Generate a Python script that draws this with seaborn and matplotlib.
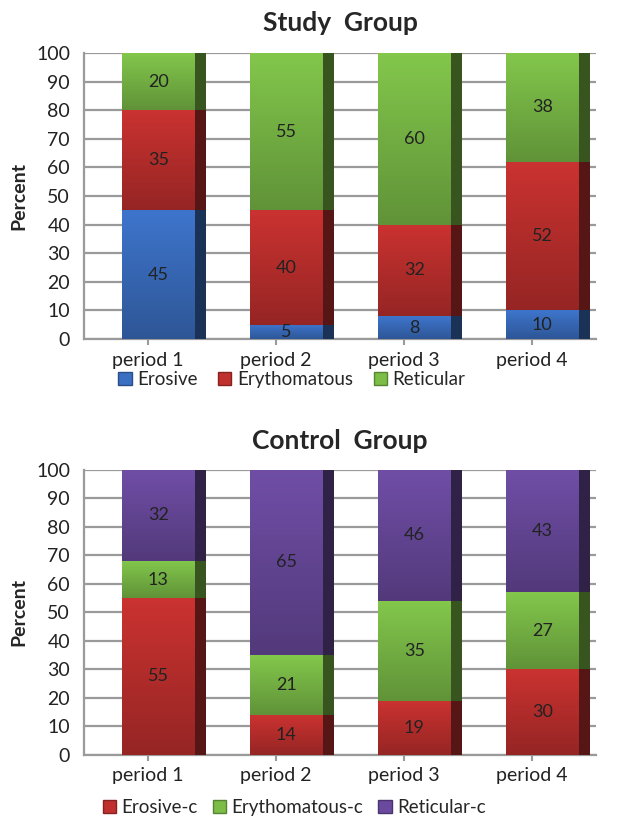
import numpy as np
import pandas as pd
import seaborn as sns
import matplotlib.pyplot as plt
from matplotlib.colors import to_rgb
from matplotlib.patches import Patch

periods = ['period 1', 'period 2', 'period 3', 'period 4']

# Study group
study_names = ['Erosive', 'Erythomatous', 'Reticular']
study_erosive = [45, 5, 8, 10]
study_erythomatous = [35, 40, 32, 52]
study_reticular = [20, 55, 60, 38]

# Control group
control_names = ['Erosive-c', 'Erythomatous-c', 'Reticular-c']
control_erosive = [55, 14, 19, 30]
control_erythomatous = [13, 21, 35, 27]
control_reticular = [32, 65, 46, 43]

study_colors = ['#3b6fc2', '#c0302e', '#7cbd48']
control_colors = ['#c0302e', '#7cbd48', '#6a4a9e']

sns.set_theme(style='white')
plt.rcParams['font.family'] = ['Lato', 'DejaVu Sans']


def darker(c, f=0.45):
    return tuple(np.array(to_rgb(c)) * f)


def stacked(ax, series, names, colors, title, pad):
    df = pd.DataFrame({'period': periods})
    cum = np.zeros(len(periods))
    tops = []
    for s in series:
        cum = cum + np.array(s)
        tops.append(cum.copy())
    # draw from the top layer down so lower layers overlap
    shift = 0.08
    for i in reversed(range(len(series))):
        df['top'] = tops[i]
        n0 = len(ax.patches)
        sns.barplot(data=df, x='period', y='top', color=colors[i], width=0.57,
                    saturation=1, ax=ax, zorder=3)
        for p in ax.patches[n0:]:
            p.set_x(p.get_x() + shift)
            p.set_edgecolor('none')

    xs = np.arange(len(periods))
    bottom = np.zeros(len(periods))
    for i, s in enumerate(series):
        # side faces
        ax.bar(xs + shift + 0.285 + 0.043, s, bottom=bottom, width=0.086,
               color=darker(colors[i]), zorder=3, linewidth=0)
        # soft vertical shading on the front faces
        c = np.array(to_rgb(colors[i]))
        grad = np.linspace(0.78, 1.05, 32)[:, None, None] * c[None, None, :]
        grad = np.clip(grad, 0, 1)
        for x, b, v in zip(xs, bottom, s):
            ax.imshow(grad, extent=(x + shift - 0.285, x + shift + 0.285, b, b + v),
                      origin='lower', aspect='auto', zorder=3.5, interpolation='bilinear')
            ax.text(x + shift, b + v / 2, str(v), ha='center', va='center',
                    fontsize=13, color='#222222', zorder=5)
        bottom = bottom + np.array(s)

    ax.set_xlim(-0.5, 3.5)
    ax.set_ylim(0, 100)
    ax.set_yticks(range(0, 101, 10))
    ax.yaxis.grid(True, color='#9a9a9a', lw=1.6, zorder=0)
    ax.set_axisbelow(True)
    ax.set_xlabel('')
    ax.set_ylabel('Percent', fontsize=14, fontweight='bold', labelpad=6)
    ax.set_title(title, fontsize=19, fontweight='bold', pad=pad)
    for side in ['top', 'right']:
        ax.spines[side].set_visible(False)
    for side in ['left', 'bottom']:
        ax.spines[side].set_color('#9a9a9a')
        ax.spines[side].set_linewidth(1.6)
    ax.tick_params(axis='both', labelsize=14, colors='#222222')
    ax.tick_params(axis='x', bottom=True, length=4, color='#9a9a9a', width=1.5, pad=5)
    ax.tick_params(axis='y', pad=4)
    handles = [Patch(facecolor=c, edgecolor=darker(c, 0.7)) for c in colors]
    return handles


fig = plt.figure(figsize=(6.29, 8.17), dpi=100)
ax1 = fig.add_axes([0.1335, 0.585, 0.814, 0.35])
ax2 = fig.add_axes([0.1335, 0.076, 0.814, 0.349])

h1 = stacked(ax1, [study_erosive, study_erythomatous, study_reticular],
             study_names, study_colors, 'Study  Group', 16)
h2 = stacked(ax2, [control_erosive, control_erythomatous, control_reticular],
             control_names, control_colors, 'Control  Group', 15)

fig.legend(h1, study_names, loc='center', bbox_to_anchor=(0.464, 0.535), ncol=3,
           frameon=False, fontsize=13.5, handlelength=0.7, handleheight=0.7,
           handletextpad=0.3, columnspacing=1.1)
fig.legend(h2, control_names, loc='center', bbox_to_anchor=(0.468, 0.012), ncol=3,
           frameon=False, fontsize=13.5, handlelength=0.7, handleheight=0.7,
           handletextpad=0.3, columnspacing=0.8)

fig.savefig('out.png', dpi=100)
